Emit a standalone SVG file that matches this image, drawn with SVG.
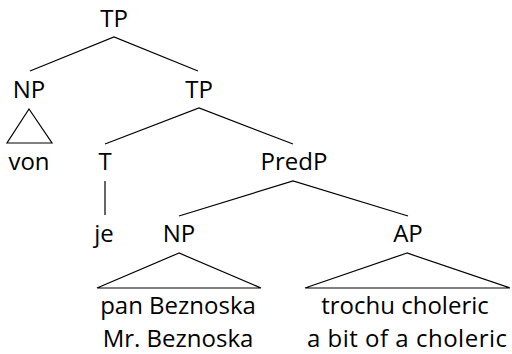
<svg xmlns="http://www.w3.org/2000/svg" width="512" height="354" viewBox="0 0 512 354">
<style>
text{font-family:"Open Sans","Liberation Sans",sans-serif;font-size:24px;fill:#000;text-anchor:middle}
.e{stroke:#000;stroke-width:1.2;fill:none}
</style>
<rect width="512" height="354" fill="#fff"/>
<g id="connectors">
<path class="e" d="M30,71 L114,37 L198,71"/>
<path class="e" d="M29,109 L7,143 L52,143 Z"/>
<path class="e" d="M105,144 L199,108 L293,144"/>
<path class="e" d="M105,181 L105,215"/>
<path class="e" d="M179,216 L293,181 L408,216"/>
<path class="e" d="M179,253 L97,288 L261,288 Z"/>
<path class="e" d="M407,253 L305,288 L510,288 Z"/>
</g>
<g id="tp1"><text x="114" y="27">TP</text></g>
<g id="np1"><text x="29" y="98">NP</text></g>
<g id="tp2"><text x="199" y="98">TP</text></g>
<g id="von"><text x="29" y="170">von</text></g>
<g id="t"><text x="105" y="170">T</text></g>
<g id="predp"><text x="294" y="170">PredP</text></g>
<g id="je"><text x="104" y="242">je</text></g>
<g id="np2"><text x="179" y="242">NP</text></g>
<g id="ap"><text x="408" y="242">AP</text></g>
<g id="np2-leaf"><text x="178" y="314">pan Beznoska</text><text x="178" y="347">Mr. Beznoska</text></g>
<g id="ap-leaf"><text x="405" y="314">trochu choleric</text><text x="407" y="347" textLength="200" lengthAdjust="spacing">a bit of a choleric</text></g>
</svg>
